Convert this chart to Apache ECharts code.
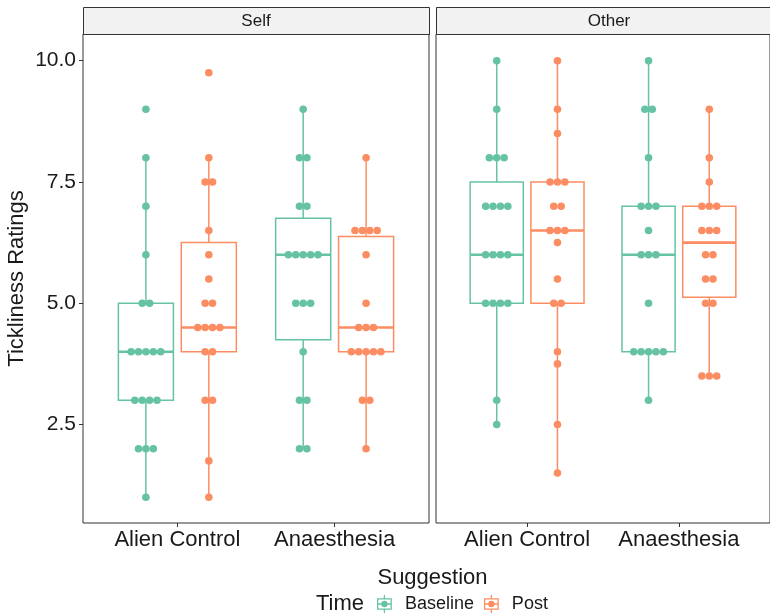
<!DOCTYPE html>
<html>
<head>
<meta charset="utf-8">
<script src="https://cdn.jsdelivr.net/npm/echarts@6/dist/echarts.min.js"></script>
<style>
html, body { margin: 0; padding: 0; background: #fff; }
#main { width: 770px; height: 615px; }
</style>
</head>
<body>
<div id="main"></div>
<script>
var suggestions = ['Alien Control', 'Anaesthesia'];
var panels = ['Self', 'Other'];
var times = ['Baseline', 'Post'];
var yTicks = [2.5, 5, 7.5, 10];

// one rating per participant
var selfAlienBaseline = [9, 8, 7, 6, 5, 5, 4, 4, 4, 4, 4, 3, 3, 3, 3, 2, 2, 2, 1];
var selfAlienPost = [9.75, 8, 7.5, 7.5, 6.5, 6, 5.5, 5, 5, 4.5, 4.5, 4.5, 4.5, 4, 4, 3, 3, 1.75, 1];
var selfAnaesBaseline = [9, 8, 8, 7, 7, 6, 6, 6, 6, 6, 5, 5, 5, 4, 3, 3, 2, 2];
var selfAnaesPost = [8, 6.5, 6.5, 6.5, 6.5, 6, 5, 4.5, 4.5, 4.5, 4, 4, 4, 4, 4, 3, 3, 2];
var otherAlienBaseline = [10, 9, 8, 8, 8, 7, 7, 7, 7, 6, 6, 6, 6, 5, 5, 5, 5, 3, 2.5];
var otherAlienPost = [10, 9, 8.5, 7.5, 7.5, 7.5, 7, 7, 6.5, 6.5, 6.5, 6.25, 5.5, 5, 5, 4, 3.75, 2.5, 1.5];
var otherAnaesBaseline = [10, 9, 9, 8, 7, 7, 7, 6.5, 6, 6, 6, 5, 4, 4, 4, 4, 4, 3];
var otherAnaesPost = [9, 8, 7.5, 7, 7, 7, 6.5, 6.5, 6.5, 6, 6, 5.5, 5.5, 5, 5, 3.5, 3.5, 3.5];

// [panel][time][suggestion]
var ratings = [
  [[selfAlienBaseline, selfAnaesBaseline], [selfAlienPost, selfAnaesPost]],
  [[otherAlienBaseline, otherAnaesBaseline], [otherAlienPost, otherAnaesPost]]
];

var colors = ['#66C2A5', '#FC8D62'];
var dodge = [-0.2, 0.2];
var boxWidth = 0.35;
var dotStep = 7.4;
var font = "'Liberation Sans', Arial, sans-serif";
var ink = '#1a1a1a';

function quantile(sorted, p) {
  var h = (sorted.length - 1) * p;
  var lo = Math.floor(h);
  var hi = Math.min(lo + 1, sorted.length - 1);
  return sorted[lo] + (h - lo) * (sorted[hi] - sorted[lo]);
}

function boxStats(values) {
  var s = values.slice().sort(function (a, b) { return a - b; });
  var q1 = quantile(s, 0.25), med = quantile(s, 0.5), q3 = quantile(s, 0.75);
  var iqr = q3 - q1;
  var lo = s.filter(function (v) { return v >= q1 - 1.5 * iqr; })[0];
  var inside = s.filter(function (v) { return v <= q3 + 1.5 * iqr; });
  var hi = inside[inside.length - 1];
  return [lo, q1, med, q3, hi];
}

function renderBox(params, api) {
  var x = api.value(0);
  var lo = api.coord([x, api.value(1)]);
  var q1 = api.coord([x, api.value(2)]);
  var md = api.coord([x, api.value(3)]);
  var q3 = api.coord([x, api.value(4)]);
  var hi = api.coord([x, api.value(5)]);
  var half = api.size([boxWidth, 0])[0] / 2;
  var color = api.visual('color');
  return {
    type: 'group',
    children: [
      { type: 'line', shape: { x1: lo[0], y1: lo[1], x2: q1[0], y2: q1[1] }, style: { stroke: color, lineWidth: 1.5 } },
      { type: 'line', shape: { x1: q3[0], y1: q3[1], x2: hi[0], y2: hi[1] }, style: { stroke: color, lineWidth: 1.5 } },
      { type: 'rect', shape: { x: q1[0] - half, y: q3[1], width: half * 2, height: q1[1] - q3[1] }, style: { fill: '#fff', stroke: color, lineWidth: 1.5 } },
      { type: 'line', shape: { x1: md[0] - half, y1: md[1], x2: md[0] + half, y2: md[1] }, style: { stroke: color, lineWidth: 2.6 } }
    ]
  };
}

var series = [];
panels.forEach(function (panel, p) {
  times.forEach(function (time, t) {
    var boxes = [];
    var dots = [];
    suggestions.forEach(function (sug, c) {
      var xc = c + 1 + dodge[t];
      var vals = ratings[p][t][c];
      boxes.push([xc].concat(boxStats(vals)));
      // stack equal ratings side by side, centred on the box
      var counts = {};
      vals.forEach(function (v) { counts[v] = (counts[v] || 0) + 1; });
      Object.keys(counts).forEach(function (k) {
        var n = counts[k];
        for (var i = 0; i < n; i++) {
          dots.push({ value: [xc, +k], symbolOffset: [(i - (n - 1) / 2) * dotStep, 0] });
        }
      });
    });
    series.push({
      name: time,
      type: 'custom',
      xAxisIndex: p,
      yAxisIndex: p,
      itemStyle: { color: colors[t] },
      renderItem: renderBox,
      encode: { x: 0, y: [1, 2, 3, 4, 5] },
      data: boxes,
      z: 2,
      silent: true
    });
    series.push({
      name: time,
      type: 'scatter',
      xAxisIndex: p,
      yAxisIndex: p,
      symbolSize: 7.6,
      itemStyle: { color: colors[t], opacity: 1 },
      data: dots,
      z: 3,
      silent: true
    });
  });
});

var gridLefts = [83, 436];
var gridWidth = 346;

var grids = gridLefts.map(function (l) {
  return { left: l, top: 34, width: gridWidth, height: 489, show: true, borderColor: '#333', borderWidth: 1, backgroundColor: '#fff' };
});

var xAxes = gridLefts.map(function (l, i) {
  return {
    type: 'value', gridIndex: i, min: 0.4, max: 2.6,
    splitLine: { show: false },
    axisLine: { show: false },
    axisTick: { show: true, length: 4, lineStyle: { color: '#333' }, customValues: [1, 2] },
    axisLabel: {
      customValues: [1, 2], margin: 6, fontSize: 22, color: ink,
      formatter: function (v) { return suggestions[Math.round(v) - 1]; }
    }
  };
});

var yAxes = gridLefts.map(function (l, i) {
  return {
    type: 'value', gridIndex: i, min: 0.47, max: 10.55,
    name: i === 0 ? 'Tickliness Ratings' : '',
    nameLocation: 'middle', nameGap: 55,
    nameTextStyle: { fontSize: 22, color: ink },
    splitLine: { show: false },
    axisLine: { show: false },
    axisTick: { show: i === 0, length: 4, lineStyle: { color: '#333' }, customValues: yTicks },
    axisLabel: {
      show: i === 0, customValues: yTicks, margin: 7, fontSize: 21, color: ink,
      formatter: function (v) { return v.toFixed(1); }
    }
  };
});

var graphics = [];
panels.forEach(function (panel, p) {
  graphics.push({
    type: 'rect', left: gridLefts[p], top: 7, z: 10,
    shape: { width: gridWidth, height: 27 },
    style: { fill: '#F2F2F2', stroke: '#333', lineWidth: 1 }
  });
  graphics.push({
    type: 'text', z: 11, x: gridLefts[p] + gridWidth / 2, y: 21,
    style: { text: panel, fontSize: 17, fontFamily: font, fill: ink, textAlign: 'center', textVerticalAlign: 'middle' }
  });
});
graphics.push({
  type: 'text', x: (gridLefts[0] + gridLefts[1] + gridWidth) / 2, y: 578,
  style: { text: 'Suggestion', fontSize: 22, fontFamily: font, fill: ink, textAlign: 'center', textVerticalAlign: 'middle' }
});
graphics.push({
  type: 'text', x: 316, y: 604,
  style: { text: 'Time', fontSize: 22, fontFamily: font, fill: ink, textAlign: 'left', textVerticalAlign: 'middle' }
});

var keyIcon = 'path://M7.4,0H8.6V3H7.4Z M1,3H15V14H1Z M2.2,12.8H13.8V4.2H2.2Z M2,7.9H14V9.1H2Z M7.4,14H8.6V17H7.4Z M5,8.5A3,3 0 1,1 11,8.5A3,3 0 1,1 5,8.5Z';

var chart = echarts.init(document.getElementById('main'));
chart.setOption({
  animation: false,
  textStyle: { fontFamily: font },
  grid: grids,
  xAxis: xAxes,
  yAxis: yAxes,
  legend: {
    left: 377, top: 595, padding: 0,
    icon: keyIcon,
    itemWidth: 15, itemHeight: 18, itemGap: 10,
    textStyle: { fontSize: 18, color: ink, padding: [0, 0, 0, 8] },
    selectedMode: false,
    data: [
      { name: 'Baseline', itemStyle: { color: colors[0] } },
      { name: 'Post', itemStyle: { color: colors[1] } }
    ]
  },
  graphic: graphics,
  series: series
});
</script>
</body>
</html>
